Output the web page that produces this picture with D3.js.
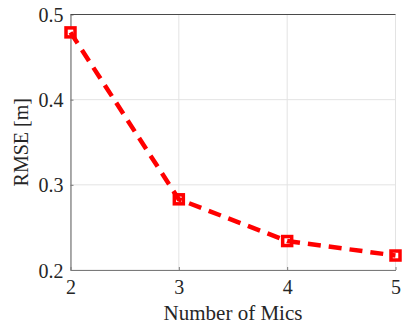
<!DOCTYPE html>
<html><head><meta charset="utf-8">
<script src="https://cdn.jsdelivr.net/npm/d3@7"></script>
<style>body{margin:0;background:#fff}svg{display:block}</style>
</head><body>
<script>
const mics = [2, 3, 4, 5];
const rmse = [0.479, 0.283, 0.234, 0.217];
const xTicks = [2, 3, 4, 5];
const yTicks = [0.2, 0.3, 0.4, 0.5];

const W = 402, H = 328;
const m = {left: 70.5, right: 6.5, top: 14.5, bottom: 58};
const svg = d3.select("body").append("svg").attr("width", W).attr("height", H);
const x = d3.scaleLinear().domain([2, 5]).range([m.left, W - m.right]);
const y = d3.scaleLinear().domain([0.2, 0.5]).range([H - m.bottom, m.top]);
const font = "'Liberation Serif','Times New Roman',serif";

// grid
svg.append("g").selectAll("line").data(xTicks).join("line")
  .attr("x1", d => x(d)).attr("x2", d => x(d)).attr("y1", m.top).attr("y2", H - m.bottom)
  .attr("stroke", "#e3e3e3").attr("stroke-width", 1);
svg.append("g").selectAll("line").data(yTicks).join("line")
  .attr("x1", m.left).attr("x2", W - m.right).attr("y1", d => y(d)).attr("y2", d => y(d))
  .attr("stroke", "#e3e3e3").attr("stroke-width", 1);

// axes
const xa = svg.append("g").attr("transform", `translate(0,${H - m.bottom})`)
  .call(d3.axisBottom(x).tickValues(xTicks).tickFormat(d3.format("d")).tickSizeInner(-3).tickSizeOuter(0).tickPadding(10));
const ya = svg.append("g").attr("transform", `translate(${m.left},0)`)
  .call(d3.axisLeft(y).tickValues(yTicks).tickFormat(d3.format(".1f")).tickSizeInner(-3).tickSizeOuter(0).tickPadding(7));
[xa, ya].forEach(g => {
  g.select(".domain").attr("stroke", "#7a7a7a").attr("stroke-width", 1.2);
  g.selectAll(".tick line").attr("stroke", "#7a7a7a");
  g.selectAll("text").attr("font-family", font).attr("font-size", 20).attr("fill", "#262626");
});
ya.selectAll("text").attr("dy", "0.35em");
// top border
svg.append("line").attr("x1", m.left).attr("x2", W - m.right).attr("y1", m.top).attr("y2", m.top)
  .attr("stroke", "#4a4a4a").attr("stroke-width", 1.2);

// labels
svg.append("text").attr("x", x(3.5)).attr("y", 320).attr("text-anchor", "middle")
  .attr("font-family", font).attr("font-size", 21).attr("fill", "#262626").text("Number of Mics");
svg.append("text").attr("transform", `translate(28,${(m.top + H - m.bottom) / 2}) rotate(-90)`)
  .attr("text-anchor", "middle").attr("font-family", font).attr("font-size", 20).attr("fill", "#262626").text("RMSE [m]");

const pts = mics.map((d, i) => [d, rmse[i]]);
// markers
svg.append("g").selectAll("rect").data(pts).join("rect")
  .attr("x", d => x(d[0]) - 4.5).attr("y", d => y(d[1]) - 4.5).attr("width", 9).attr("height", 9)
  .attr("fill", "#fff").attr("stroke", "#ff0000").attr("stroke-width", 3.5);
// dashed line
svg.append("path").datum(pts)
  .attr("d", d3.line().x(d => x(d[0])).y(d => y(d[1])))
  .attr("fill", "none").attr("stroke", "#ff0000").attr("stroke-width", 4.5)
  .attr("stroke-dasharray", "13,8");
</script>
</body></html>
